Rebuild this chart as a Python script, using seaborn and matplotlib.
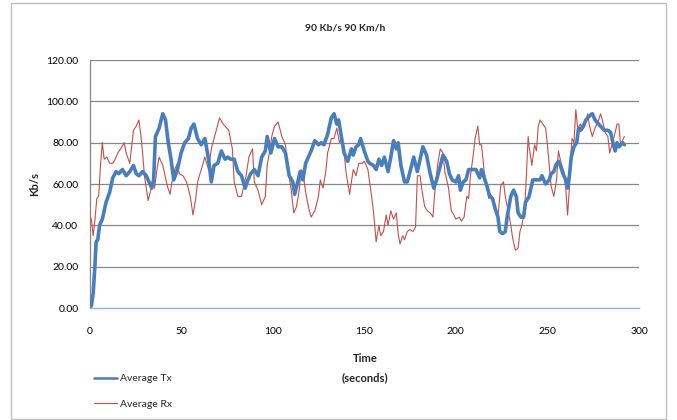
import matplotlib
matplotlib.use("Agg")
import matplotlib.pyplot as plt
import seaborn as sns
import pandas as pd
from matplotlib.patches import Rectangle
from matplotlib.lines import Line2D

# ---- data ----
tx_time = [0, 1, 2, 3, 3.6, 4.5, 5.5, 7, 9, 11, 12.7, 14.5, 16, 18, 20, 22, 24, 25.5, 27, 29, 31, 33, 34, 35,
           36, 38, 40, 41.5, 43, 44.5, 46, 48, 50, 52, 54, 55.5, 57, 59, 61, 63, 65, 66.5, 68, 70, 72,
           74, 75.5, 77, 79, 81, 83, 85, 86.5, 88, 90, 92, 94, 96, 97, 99, 101, 103, 105, 107, 109,
           111, 112, 114, 115, 116.5, 118, 119, 121, 123, 125, 126.5, 128, 130, 132, 133.5, 135, 136,
           137.5, 139, 141, 143, 144, 145.5, 147, 148, 150, 152, 153, 155, 156.5, 158, 159.5, 161,
           163, 164.5, 166, 167.5, 168.5, 170, 172, 173.5, 175, 177, 179, 180, 182, 184, 186, 188,
           189.5, 191, 193, 195, 196.5, 198, 200, 201.5, 202.5, 204, 205.5, 207, 209, 211, 213, 214,
           215.5, 217, 218.5, 220, 221.5, 223, 224, 225.5, 227, 228, 230, 231.5, 233, 234, 235.5,
           237, 238, 240, 241, 242, 243, 245, 246, 247, 249, 250, 251, 252, 253.5, 254.5, 256, 257,
           258.5, 260, 261, 262, 263, 264.5, 266, 267, 268, 270, 271, 273, 274.5, 276, 278, 279,
           281, 283, 284.5, 286, 287, 288, 289, 291, 292]
tx_value = [0, 1, 7, 21, 32, 33, 40, 43, 51, 56, 63, 66, 65, 67, 64, 66, 69, 65, 64, 66, 64, 60, 58, 62,
            83, 87, 94, 91, 80, 72, 62, 67, 75, 80, 82, 87, 89, 82, 79, 82, 72, 61, 69, 70, 76,
            72, 73, 72, 72, 66, 64, 58, 62, 65, 67, 64, 73, 76, 83, 75, 82, 78, 78, 75, 64,
            61, 55, 62, 66, 62, 70, 72, 76, 81, 79, 80, 79, 84, 92, 94, 89, 91,
            83, 75, 71, 77, 74, 78, 79, 82, 76, 71, 70, 69, 67, 72, 69, 73,
            66, 73, 81, 77, 80, 69, 61, 61, 66, 73, 66, 70, 78, 74, 65, 58,
            62, 67, 74, 71, 65, 62, 61, 64, 57, 61, 62, 67, 67, 67, 63, 67,
            63, 59, 54, 53, 48, 44, 37, 36, 37, 44, 54, 57, 54, 46, 44,
            44, 51, 54, 58, 62, 62, 62, 62, 64, 60, 61, 62, 65, 66, 69, 71, 69,
            65, 62, 58, 64, 73, 78, 80, 87, 86, 89, 91, 93, 94, 91, 89, 88,
            86, 86, 85, 79, 76, 80, 78, 80, 79]

rx_time = [0, 1, 2, 3, 4, 5, 6, 7, 8, 9.5, 11, 12.7, 14, 15.5, 17, 19, 20, 22, 24, 25.5, 27, 28,
           29, 30, 31, 32, 34, 35, 35.5, 37, 38, 40, 41, 42.5, 44, 45, 46.5, 48, 49, 51, 53, 55,
           56.5, 58, 59, 61, 63, 65, 66.5, 68, 69.5, 71, 73, 75, 76, 78, 79, 81, 83, 84, 85.5,
           87, 89, 90, 92, 94, 96, 97, 98, 99.5, 101, 103, 105, 107, 108, 110, 111.5, 113, 114.5,
           115.5, 116.5, 118, 120, 121, 123, 125, 126, 127.5, 129, 130, 132, 133.5, 135, 136.5,
           137.5, 139, 140, 142, 143, 144, 145.5, 147, 149, 150, 152, 154, 155, 156.5, 158, 159,
           160.5, 162, 163, 164.5, 166, 167.5, 168.5, 169.5, 171, 172, 173.5, 175, 176.5, 178,
           179, 180.5, 181.5, 183, 184.5, 186, 187.5, 188.5, 190, 191.5, 193, 194, 196, 197.5,
           199, 200, 202, 203, 204.5, 206, 207, 208, 209.5, 210.5, 212, 213, 214, 215.5, 217,
           218, 219, 220.5, 222, 223, 224.5, 226, 227, 229, 230, 231, 232.5, 234, 235, 236,
           237.5, 238.5, 239.5, 240, 241.5, 243, 244, 245, 246, 247.5, 249, 250, 251, 252,
           253.5, 255, 256, 257.5, 259, 260, 261, 262, 262.5, 263.5, 264.5, 265.5, 266.5, 268,
           269, 270.5, 272, 273, 274.5, 276, 278, 279, 280, 281.5, 283, 284, 285.5, 287, 288,
           289, 290, 291, 292]
rx_value = [44, 43, 35, 43, 53, 54, 69, 80, 72, 73, 70, 70, 72, 75, 77, 80, 75, 70, 86, 88, 91, 84,
            75, 64, 58, 52, 59, 61, 58, 68, 73, 69, 65, 59, 55, 61, 67, 70, 65, 64, 61, 54,
            45, 53, 61, 67, 73, 67, 77, 82, 87, 92, 89, 87, 86, 77, 61, 54, 54, 58, 64,
            73, 77, 61, 57, 50, 54, 69, 74, 83, 88, 90, 83, 79, 69, 58, 46, 49, 57,
            67, 66, 56, 47, 44, 47, 54, 62, 58, 66, 75, 82, 82, 87, 80,
            82, 76, 66, 55, 61, 67, 64, 70, 70, 71, 67, 54, 47, 32, 40, 35,
            37, 45, 40, 47, 43, 46, 36, 31, 35, 33, 37, 38, 37, 39,
            64, 64, 57, 49, 47, 46, 44, 56, 69, 77, 75, 66, 58, 47,
            45, 43, 44, 42, 44, 54, 53, 64, 74, 82, 88, 79, 79, 66, 58,
            53, 55, 53, 46, 44, 59, 61, 54, 45, 40, 34, 28, 29, 37, 40,
            47, 64, 83, 78, 69, 79, 76, 88, 91, 89, 87, 79, 69, 59,
            54, 62, 76, 70, 66, 58, 45, 58, 72, 82, 80, 96, 87, 89,
            86, 88, 94, 88, 83, 87, 91, 94, 91, 85, 83, 75, 80, 85, 89,
            89, 78, 81, 83]

title_text = "90 Kb/s 90 Km/h"
series_names = ["Average Tx", "Average Rx"]
y_ticks = [0, 20, 40, 60, 80, 100, 120]
x_ticks = [0, 50, 100, 150, 200, 250, 300]

# ---- style ----
sns.set_theme(style="white")
plt.rcParams['font.family'] = ['Lato', 'DejaVu Sans']

blue = "#4a7ebb"
red = "#c0504d"
grid_col = "#878787"

fig = plt.figure(figsize=(6.77, 4.2), dpi=100)
ax = fig.add_axes([89.5 / 677, 1 - 308 / 420, (639 - 89.5) / 677, (308 - 60) / 420])

df_tx = pd.DataFrame({"t": tx_time, "v": tx_value})
df_rx = pd.DataFrame({"t": rx_time, "v": rx_value})

sns.lineplot(data=df_rx, x="t", y="v", ax=ax, color=red, lw=0.8, estimator=None,
             sort=False, zorder=3)
sns.lineplot(data=df_tx, x="t", y="v", ax=ax, color=blue, lw=2.6, estimator=None,
             sort=False, zorder=4)

ax.set_xlim(0, 300)
ax.set_ylim(0, 120)
ax.set_xticks(x_ticks)
ax.set_yticks(y_ticks)
ax.set_yticklabels([f"{v:.2f}" for v in y_ticks])
ax.tick_params(axis="both", length=0, labelsize=7.5, colors="#000000", pad=8)
ax.tick_params(axis="x", pad=14)
for y in y_ticks[1:]:
    ax.axhline(y, color=grid_col, lw=0.9, zorder=1)

for s in ["top", "right"]:
    ax.spines[s].set_visible(False)
ax.spines["left"].set_color(grid_col)
ax.spines["left"].set_linewidth(0.9)
ax.spines["bottom"].set_color("#8db3e2")
ax.spines["bottom"].set_linewidth(1.0)
ax.spines["bottom"].set_zorder(5)

ax.set_xlabel("")
ax.set_ylabel("")
fig.text(345 / 677, 1 - 28 / 420, title_text, ha="center", va="center",
         fontsize=7.5, fontweight="bold")
fig.text(35 / 677, 1 - 184 / 420, "Kb/s", ha="center", va="center", rotation=90,
         fontsize=8, fontweight="bold")
fig.text(365 / 677, 1 - 358 / 420, "Time", ha="center", va="center",
         fontsize=8, fontweight="bold")
fig.text(365 / 677, 1 - 378 / 420, "(seconds)", ha="center", va="center",
         fontsize=8, fontweight="bold")

legend_handles = [Line2D([], [], color=blue, lw=1.8), Line2D([], [], color=red, lw=0.8)]
leg = fig.legend(legend_handles, series_names,
                 loc="upper left", bbox_to_anchor=(90 / 677, 1 - 370 / 420),
                 frameon=False, fontsize=7.5, handlelength=2.2, handletextpad=0.3,
                 labelspacing=1.55, borderaxespad=0)

fig.patches.append(Rectangle((11 / 677, 1 / 420), 655 / 677, 416 / 420,
                             transform=fig.transFigure, fill=False,
                             edgecolor="#bfbfbf", lw=1))

fig.savefig("out.png", dpi=100)
